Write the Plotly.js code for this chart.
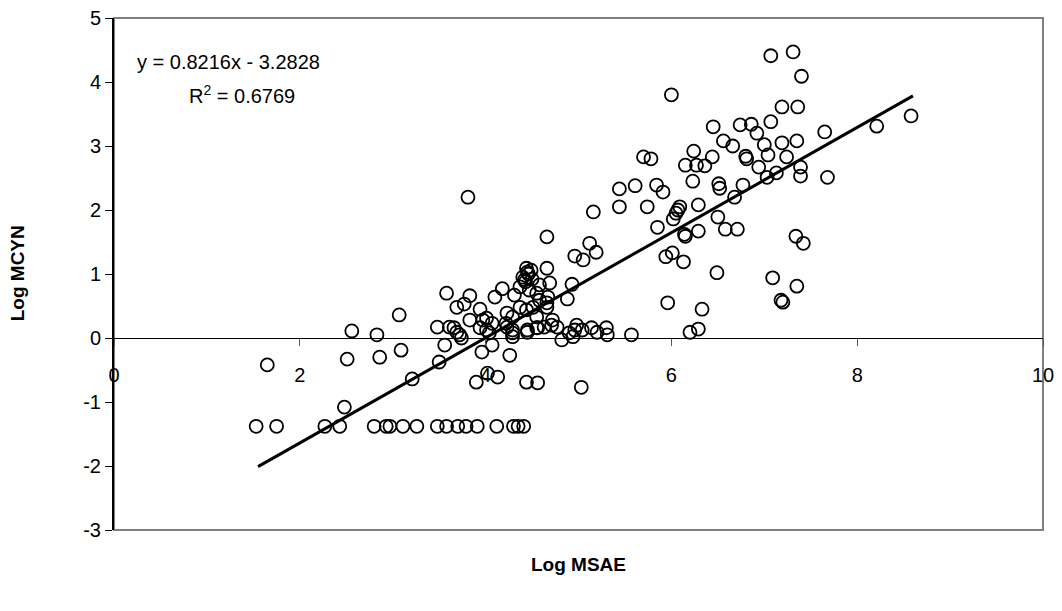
<!DOCTYPE html>
<html>
<head>
<meta charset="utf-8">
<script src="https://cdn.plot.ly/plotly-3.0.1.min.js"></script>
<style>html,body{margin:0;padding:0;background:#fff;}#chart{width:1062px;height:611px;}</style>
</head>
<body>
<div id="chart"></div>
<script>
// Log MSAE (x) values
const logMSAE = [
  1.53,1.75,2.27,2.43,2.80,2.93,2.97,3.11,3.26,3.48,3.58,3.70,3.79,3.91,4.12,4.30,4.35,4.41,
  2.48,1.65,2.51,2.86,3.09,3.21,3.50,3.56,3.90,4.02,4.13,3.96,4.07,4.26,4.44,4.56,5.03,4.82,
  2.56,2.83,3.07,3.48,3.61,3.66,3.69,3.72,3.74,3.83,3.94,4.04,4.22,4.29,4.29,4.45,4.56,4.63,4.71,4.77,4.90,4.94,4.96,4.98,5.04,5.14,5.20,5.30,5.31,5.57,6.20,6.29,
  3.97,4.01,4.07,4.23,4.29,4.45,4.55,4.72,
  3.58,3.83,3.69,3.77,3.94,4.01,4.10,4.18,4.23,4.29,4.37,4.44,4.51,4.55,4.58,4.66,4.67,4.37,4.40,4.44,4.49,4.45,4.42,4.31,4.47,4.58,4.66,4.69,4.88,4.93,4.55,4.66,
  4.46,4.43,4.50,
  4.66,4.96,5.05,5.12,5.19,5.16,5.44,5.44,3.81,5.61,5.70,5.78,5.84,5.91,5.74,6.00,6.24,6.44,6.15,6.27,6.36,6.23,6.45,6.74,6.86,6.92,7.07,7.19,7.36,6.56,6.66,6.80,6.81,7.00,7.04,7.19,7.35,7.24,6.94,7.13,7.03,7.39,7.39,7.65,7.68,6.51,6.52,6.77,6.68,6.29,6.07,6.09,6.05,6.02,5.85,6.14,6.15,6.29,6.50,6.58,6.71,5.94,6.01,6.13,6.49,5.96,6.33,7.34,7.42,7.09,7.35,7.18,7.20,7.07,7.31,7.40,8.21,8.58
];
// Log MCYN (y) values
const logMCYN = [
  -1.38,-1.38,-1.38,-1.38,-1.38,-1.38,-1.38,-1.38,-1.38,-1.38,-1.38,-1.38,-1.38,-1.38,-1.38,-1.38,-1.38,-1.38,
  -1.08,-0.42,-0.33,-0.30,-0.19,-0.64,-0.375,-0.11,-0.69,-0.55,-0.61,-0.22,-0.11,-0.27,-0.69,-0.70,-0.77,-0.03,
  0.11,0.05,0.36,0.17,0.17,0.16,0.09,0.05,0.0,0.28,0.16,0.08,0.23,0.08,0.02,0.09,0.16,0.17,0.20,0.17,0.08,0.02,0.125,0.20,0.125,0.16,0.09,0.16,0.05,0.05,0.09,0.14,
  0.28,0.125,0.23,0.17,0.125,0.125,0.16,0.28,
  0.70,0.66,0.48,0.53,0.45,0.31,0.64,0.77,0.39,0.33,0.48,0.44,0.48,0.70,0.59,0.55,0.64,0.80,0.95,1.09,1.06,1.03,0.91,0.67,0.75,0.83,1.09,0.86,0.61,0.84,0.33,0.48,
  1.00,0.88,0.92,
  1.58,1.28,1.22,1.48,1.34,1.97,2.05,2.33,2.20,2.38,2.83,2.80,2.39,2.28,2.05,3.80,2.92,2.83,2.70,2.70,2.69,2.45,3.30,3.33,3.34,3.20,3.38,3.61,3.61,3.08,3.00,2.84,2.80,3.02,2.86,3.05,3.08,2.83,2.67,2.58,2.51,2.67,2.53,3.22,2.51,2.41,2.34,2.39,2.20,2.08,2.00,2.05,1.95,1.86,1.73,1.62,1.59,1.67,1.89,1.70,1.70,1.27,1.33,1.19,1.02,0.55,0.45,1.59,1.48,0.94,0.81,0.59,0.56,4.41,4.47,4.09,3.31,3.47
];
// Linear trend line (from the chart's equation)
const trendSlope = 0.8216;
const trendIntercept = -3.2828;
const trendRange = [1.55, 8.6];
const trendLabel = "y = 0.8216x - 3.2828";
const r2Label = "R<sup>2</sup> = 0.6769";
const xTicks = [0, 2, 4, 6, 8, 10];
const yTicks = [-3, -2, -1, 0, 1, 2, 3, 4, 5];

const trendX = trendRange.slice();
const trendY = trendX.map(v => trendSlope * v + trendIntercept);

const font = 'Liberation Sans, Arial, sans-serif';

const data = [
  {
    x: logMSAE, y: logMCYN, type: 'scatter', mode: 'markers',
    marker: {symbol: 'circle-open', size: 13, color: '#000', line: {width: 1.8, color: '#000'}},
    hoverinfo: 'x+y', showlegend: false
  },
  {
    x: trendX, y: trendY, type: 'scatter', mode: 'lines',
    line: {color: '#000', width: 3}, showlegend: false, hoverinfo: 'skip'
  }
];

const layout = {
  width: 1062, height: 611,
  margin: {l: 114, r: 19, t: 18, b: 81},
  paper_bgcolor: '#fff', plot_bgcolor: '#fff',
  font: {family: font, color: '#000', size: 20},
  showlegend: false,
  xaxis: {
    range: [0, 10], tickvals: xTicks, ticktext: xTicks.map(String),
    showgrid: false, zeroline: false, showline: true, linecolor: '#000', linewidth: 1,
    anchor: 'free', position: 0.375,
    ticks: 'outside', ticklen: 7, tickcolor: '#555', tickwidth: 1,
    ticklabelstandoff: 12,
    tickfont: {family: font, size: 20, color: '#000'}
  },
  yaxis: {
    range: [-3, 5], tickvals: yTicks, ticktext: yTicks.map(String),
    showgrid: false, zeroline: false, showline: true, linecolor: '#000', linewidth: 2,
    ticks: 'outside', ticklen: 7, tickcolor: '#000', tickwidth: 1,
    tickfont: {family: font, size: 20, color: '#000'}
  },
  shapes: [
    {type: 'rect', xref: 'paper', yref: 'paper', x0: 0, x1: 1, y0: 0, y1: 1,
     line: {color: '#808080', width: 2}, layer: 'below'}
  ],
  annotations: [
    {text: trendLabel, xref: 'x', yref: 'y', x: 0.23, y: 4.31, xanchor: 'left', yanchor: 'middle',
     showarrow: false, font: {family: font, size: 20, color: '#000'}},
    {text: r2Label, xref: 'x', yref: 'y', x: 0.79, y: 3.80, xanchor: 'left', yanchor: 'middle',
     showarrow: false, font: {family: font, size: 20, color: '#000'}},
    {text: '<b>Log MSAE</b>', xref: 'paper', yref: 'paper', x: 0.5, y: -0.068,
     xanchor: 'center', yanchor: 'middle', showarrow: false, font: {family: font, size: 19, color: '#000'}},
    {text: '<b>Log MCYN</b>', xref: 'paper', yref: 'paper', x: -0.103, y: 0.502, textangle: -90,
     xanchor: 'center', yanchor: 'middle', showarrow: false, font: {family: font, size: 19, color: '#000'}}
  ]
};

Plotly.newPlot('chart', data, layout, {displayModeBar: false, staticPlot: true});
</script>
</body>
</html>
